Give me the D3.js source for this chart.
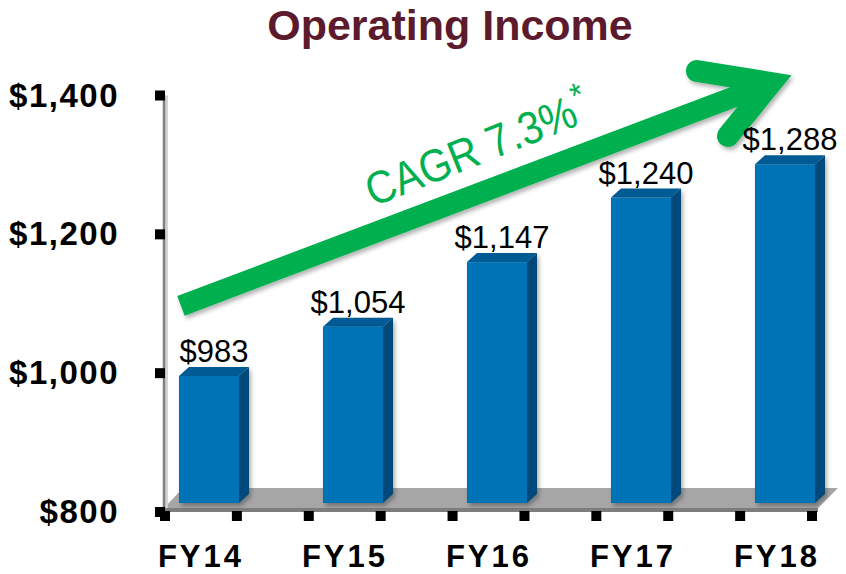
<!DOCTYPE html>
<html>
<head>
<meta charset="utf-8">
<script src="https://cdnjs.cloudflare.com/ajax/libs/d3/7.8.5/d3.min.js"></script>
<style>
  body { margin: 0; background: #fff; }
  svg { display: block; font-family: "Liberation Sans", Arial, sans-serif; }
</style>
</head>
<body>
<div id="chart"></div>
<script>
var categories = ["FY14", "FY15", "FY16", "FY17", "FY18"];
var values = [983, 1054, 1147, 1240, 1288];
var valueLabels = ["$983", "$1,054", "$1,147", "$1,240", "$1,288"];
var yTicks = [800, 1000, 1200, 1400];
var yTickLabels = ["$800", "$1,000", "$1,200", "$1,400"];
var titleText = "Operating Income";
var cagrText = "CAGR 7.3%";

var csize = [846, 574];
var depth = {dx: 10, dy: 9};

var svg = d3.select("#chart").append("svg")
  .attr("width", csize[0]).attr("height", csize[1])
  .attr("viewBox", "0 0 " + csize[0] + " " + csize[1]);

var defs = svg.append("defs");
var shadow = defs.append("filter").attr("id", "shadow")
  .attr("x", "-10%").attr("y", "-10%").attr("width", "130%").attr("height", "130%");
shadow.append("feDropShadow")
  .attr("dx", 2).attr("dy", 3).attr("stdDeviation", 2)
  .attr("flood-color", "#000").attr("flood-opacity", 0.3);

var y = d3.scaleLinear().domain([800, 1400]).range([512, 95.5]);
var x = d3.scaleBand().domain(categories).range([137, 857])
  .paddingInner(0.583).paddingOuter(0.2915);
var bw = x.bandwidth();

var axisX = 164;
var floorFront = y(800) - 4, floorBack = y(800) - 24;
var floorRight = x(categories[categories.length - 1]) + bw + 3;

// title
svg.append("text")
  .attr("x", 450).attr("y", 40)
  .attr("text-anchor", "middle")
  .style("font-size", "43px").style("font-weight", "bold")
  .style("fill", "#5C1B2C")
  .text(titleText);

// floor
svg.append("rect")
  .attr("x", axisX).attr("y", floorFront)
  .attr("width", floorRight - axisX).attr("height", 4)
  .style("fill", "#7d7d7d");
svg.append("polygon")
  .attr("points", [
    [axisX, floorFront], [axisX + 19, floorBack],
    [floorRight + 20, floorBack], [floorRight, floorFront]
  ].join(" "))
  .style("fill", "#a6a6a6");

// left wall line
svg.append("line")
  .attr("x1", axisX + 2.5).attr("x2", axisX + 2.5)
  .attr("y1", y(1400)).attr("y2", floorFront)
  .style("stroke", "#d4d4d4").style("stroke-width", 3);
svg.append("line")
  .attr("x1", axisX).attr("x2", axisX)
  .attr("y1", y(1400)).attr("y2", floorFront)
  .style("stroke", "#808080").style("stroke-width", 2.5);

// y ticks + labels
svg.selectAll(".ytick")
  .data(yTicks).enter()
  .append("rect")
    .attr("class", "ytick")
    .attr("x", axisX - 9).attr("y", function (d) { return y(d) - 5; })
    .attr("width", 10).attr("height", 10)
    .style("fill", "#000");

svg.selectAll(".ylabel")
  .data(yTicks).enter()
  .append("text")
    .attr("class", "ylabel")
    .attr("x", 119).attr("y", function (d) { return y(d) + 11; })
    .attr("text-anchor", "end")
    .style("font-size", "33px").style("font-weight", "bold")
    .style("letter-spacing", "1.5px")
    .text(function (d, i) { return yTickLabels[i]; });

// x ticks along front edge of floor
var xt = d3.scaleLinear().domain([0, 9]).range([axisX + 1, floorRight - 6]);
svg.selectAll(".xtick")
  .data(d3.range(10)).enter()
  .append("rect")
    .attr("class", "xtick")
    .attr("x", function (d) { return xt(d) - 5; })
    .attr("y", floorFront + 3)
    .attr("width", 10).attr("height", 10)
    .style("fill", "#000");

svg.selectAll(".xlabel")
  .data(categories).enter()
  .append("text")
    .attr("class", "xlabel")
    .attr("x", function (d) { return x(d) + bw / 2 - 8; })
    .attr("y", 567)
    .attr("text-anchor", "middle")
    .style("font-size", "31px").style("font-weight", "bold")
    .style("letter-spacing", "3px")
    .text(function (d) { return d; });

// 3d bars
var data = categories.map(function (c, i) {
  return {name: c, value: values[i], label: valueLabels[i]};
});

var bars = svg.selectAll(".bar")
  .data(data).enter()
  .append("g")
    .attr("class", "bar")
    .attr("filter", "url(#shadow)");

var lift = depth.dy;
bars.append("rect")
  .attr("x", function (d) { return x(d.name); })
  .attr("y", function (d) { return y(d.value) - lift; })
  .attr("width", bw)
  .attr("height", function (d) { return y(800) - y(d.value); })
  .style("fill", "#0072B6");

bars.append("polygon")
  .attr("points", function (d) {
    var x0 = x(d.name) + bw, t = y(d.value) - lift, b = y(800) - lift;
    return [[x0, t], [x0 + depth.dx, t - depth.dy], [x0 + depth.dx, b - depth.dy], [x0, b]].join(" ");
  })
  .style("fill", "#00497A");

bars.append("polygon")
  .attr("points", function (d) {
    var x0 = x(d.name), t = y(d.value) - lift;
    return [[x0, t], [x0 + depth.dx, t - depth.dy], [x0 + bw + depth.dx, t - depth.dy], [x0 + bw, t]].join(" ");
  })
  .style("fill", "#005A94");

// CAGR arrow
var start = [x("FY14") + 2, y(1097)];
var tip = [x("FY18") + 16, y(1418)];
var arrow = svg.append("g").attr("filter", "url(#shadow)");
arrow.append("line")
  .attr("x1", start[0]).attr("y1", start[1])
  .attr("x2", tip[0] - 8).attr("y2", tip[1] + 3)
  .style("stroke", "#00B050").style("stroke-width", 21);
arrow.append("path")
  .attr("d", "M" + (tip[0] - 74) + "," + (tip[1] - 12) +
             "L" + tip[0] + "," + tip[1] +
             "L" + (tip[0] - 43) + "," + (tip[1] + 53))
  .style("fill", "none").style("stroke", "#00B050")
  .style("stroke-width", 22)
  .style("stroke-linecap", "round").style("stroke-linejoin", "miter");

var angle = Math.atan2(tip[1] - start[1], tip[0] - start[0]) * 180 / Math.PI - 1;
var cagr = svg.append("text")
  .attr("transform", "translate(373,207) rotate(" + angle + ") scale(1,1.12)")
  .style("font-size", "41px").style("fill", "#00B050");
cagr.append("tspan").text(cagrText);
cagr.append("tspan").attr("dy", -15).attr("dx", 2).style("font-size", "31px").text("*");

// value labels
svg.selectAll(".vlabel")
  .data(data).enter()
  .append("text")
    .attr("class", "vlabel")
    .attr("x", function (d) { return x(d.name) + bw / 2 + 5; })
    .attr("y", function (d) { return y(d.value) - lift - 14; })
    .attr("text-anchor", "middle")
    .style("font-size", "31px")
    .style("fill", "#000")
    .text(function (d) { return d.label; });
</script>
</body>
</html>
